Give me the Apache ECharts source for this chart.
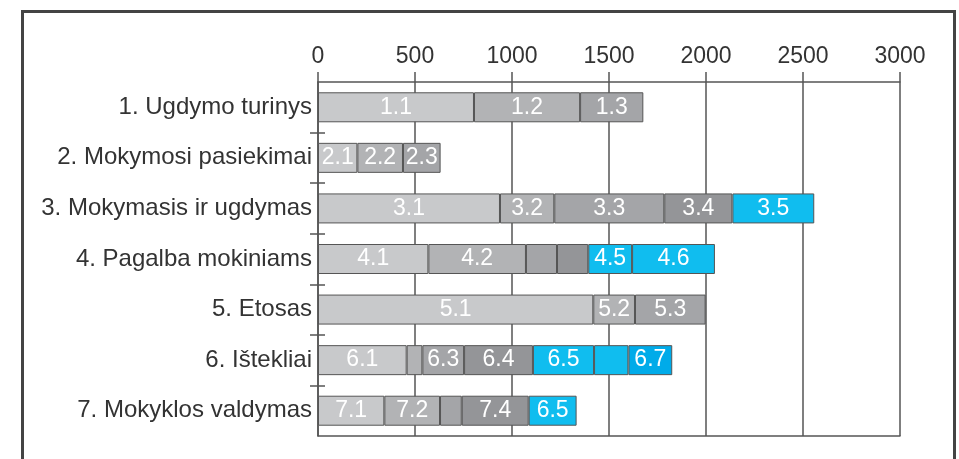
<!DOCTYPE html>
<html>
<head>
<meta charset="utf-8">
<script src="https://cdn.jsdelivr.net/npm/echarts@6/dist/echarts.min.js"></script>
<style>
html,body{margin:0;padding:0;background:#fff;}
#chart{width:959px;height:459px;}
</style>
</head>
<body>
<div id="chart"></div>
<script>
const categories = ['1. Ugdymo turinys','2. Mokymosi pasiekimai','3. Mokymasis ir ugdymas','4. Pagalba mokiniams','5. Etosas','6. Ištekliai','7. Mokyklos valdymas'];
const xTicks = [0, 500, 1000, 1500, 2000, 2500, 3000];

const row1Values = [804, 547, 326];
const row2Values = [203, 235, 194];
const row3Values = [938, 280, 567, 351, 422];
const row4Values = [569, 503, 160, 161, 226, 427];
const row5Values = [1419, 215, 364];
const row6Values = [457, 81, 215, 355, 315, 177, 226];
const row7Values = [342, 287, 112, 345, 247];

const row1Labels = ['1.1', '1.2', '1.3'];
const row2Labels = ['2.1', '2.2', '2.3'];
const row3Labels = ['3.1', '3.2', '3.3', '3.4', '3.5'];
const row4Labels = ['4.1', '4.2', '', '', '4.5', '4.6'];
const row5Labels = ['5.1', '5.2', '5.3'];
const row6Labels = ['6.1', '', '6.3', '6.4', '6.5', '', '6.7'];
const row7Labels = ['7.1', '7.2', '', '7.4', '6.5'];

const rowValues = [row1Values, row2Values, row3Values, row4Values, row5Values, row6Values, row7Values];
const rowLabels = [row1Labels, row2Labels, row3Labels, row4Labels, row5Labels, row6Labels, row7Labels];

// styles kept separate from data
const palette = { g1: '#C8C9CB', g2: '#B2B3B5', g3: '#A4A5A8', g4: '#949598', b: '#10BDEF', b2: '#00ABE9' };
const rowColorKeys = [
  ['g1','g2','g3'],
  ['g1','g2','g3'],
  ['g1','g2','g3','g4','b'],
  ['g1','g2','g3','g4','b','b'],
  ['g1','g2','g3'],
  ['g1','g2','g3','g4','b','b','b2'],
  ['g1','g2','g3','g4','b']
];

const FONT = '"Liberation Sans", Arial, sans-serif';
const maxSeg = Math.max(...rowValues.map(r => r.length));
const series = [];
for (let j = 0; j < maxSeg; j++) {
  series.push({
    type: 'bar',
    stack: 'total',
    barWidth: 30,
    yAxisIndex: 0,
    xAxisIndex: 0,
    data: rowValues.map((r, i) => {
      if (j >= r.length) return '-';
      return {
        value: r[j],
        itemStyle: { color: palette[rowColorKeys[i][j]], borderColor: '#555', borderWidth: 1 },
        label: { show: !!rowLabels[i][j], formatter: rowLabels[i][j] }
      };
    }),
    label: { position: 'inside', color: '#fff', fontSize: 23, fontFamily: FONT },
    emphasis: { disabled: true }
  });
}

// boundary positions between category bands (for separator ticks)
const boundaries = categories.map((c, i) => 'b' + i).concat(['b' + categories.length]);
const innerTick = (idx) => idx > 0 && idx < categories.length;

const chart = echarts.init(document.getElementById('chart'));
chart.setOption({
  animation: false,
  graphic: [{
    type: 'rect', left: 20, top: 9,
    shape: { x: 0, y: 0, width: 932, height: 480 },
    style: { fill: 'none', stroke: '#444', lineWidth: 3 },
    z: 100
  }],
  grid: { left: 318, right: 59, top: 82, bottom: 23, containLabel: false },
  xAxis: [{
    type: 'value', position: 'top', min: 0, max: 3000, interval: 500,
    axisLine: { show: true, lineStyle: { color: '#555', width: 1.5 } },
    axisTick: { show: true, length: 10, lineStyle: { color: '#555', width: 1.5 } },
    splitLine: { show: true, lineStyle: { color: '#555', width: 1.5 } },
    axisLabel: { color: '#333', fontSize: 23, fontFamily: FONT, margin: 14,
      formatter: v => xTicks.includes(v) ? String(v) : '' }
  }, {
    type: 'value', position: 'bottom', min: 0, max: 3000, interval: 500,
    axisLine: { show: true, lineStyle: { color: '#555', width: 1.5 } },
    axisTick: { show: false }, splitLine: { show: false }, axisLabel: { show: false }
  }],
  yAxis: [{
    type: 'category', inverse: true, data: categories, position: 'left',
    axisLine: { show: true, lineStyle: { color: '#555', width: 1.5 } },
    axisTick: { show: false },
    axisLabel: { color: '#333', fontSize: 24, fontFamily: FONT, margin: 6 }
  }, {
    type: 'category', inverse: true, data: boundaries, position: 'left', boundaryGap: false,
    axisLine: { show: false },
    axisTick: { show: true, length: 8, interval: innerTick, lineStyle: { color: '#555', width: 1.5 } },
    axisLabel: { show: false }
  }, {
    type: 'category', inverse: true, data: boundaries, position: 'left', boundaryGap: false,
    axisLine: { show: false },
    axisTick: { show: true, inside: true, length: 7, interval: innerTick, lineStyle: { color: '#555', width: 1.5 } },
    axisLabel: { show: false }
  }],
  series: series
});
</script>
</body>
</html>
